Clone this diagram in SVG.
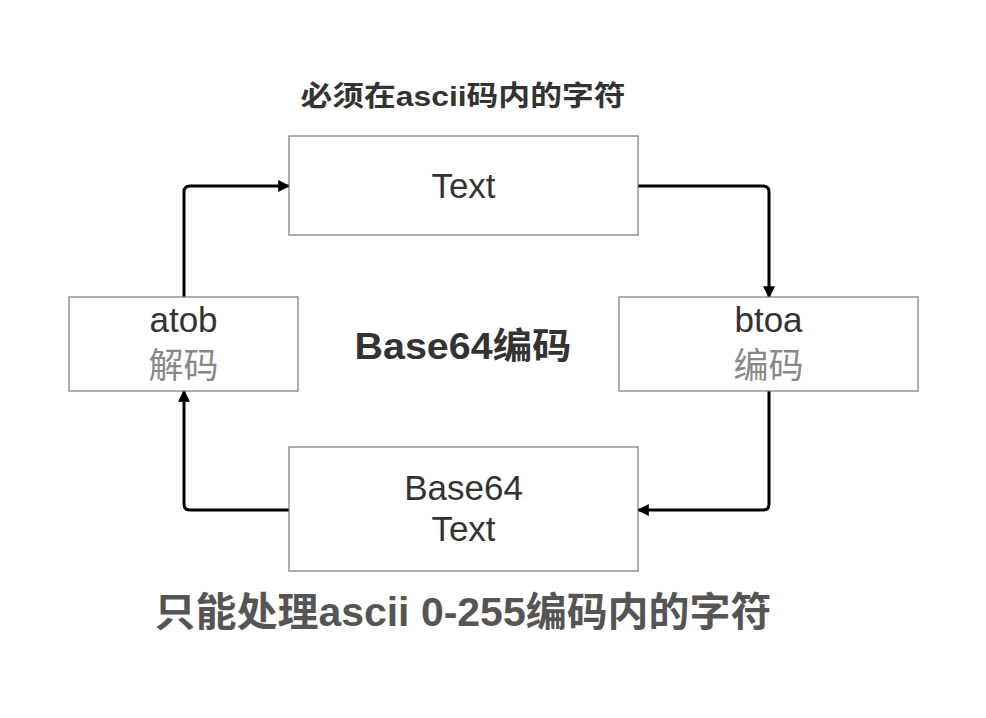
<svg xmlns="http://www.w3.org/2000/svg" width="986" height="718" viewBox="0 0 986 718">
<defs>
<marker id="arr" viewBox="0 0 10 10" refX="9" refY="5" markerWidth="4" markerHeight="4" orient="auto" markerUnits="strokeWidth">
<path d="M0,0 L10,5 L0,10 z" fill="#000"/>
</marker>
<style>
.box{fill:#fff;stroke:#777;stroke-width:1.2}
.t{font-family:"Liberation Sans","Noto Sans CJK SC",sans-serif;text-anchor:middle;fill:#333;font-size:35px}
.g{fill:#888}
.c{fill:none;stroke:#000;stroke-width:3;stroke-linejoin:round;marker-end:url(#arr)}
</style>
</defs>
<rect width="986" height="718" fill="#fff"/>
<g id="connectors">
<path class="c" d="M184,297 V192 Q184,186 190,186 H289"/>
<path class="c" d="M638,186 H763 Q769,186 769,192 V297"/>
<path class="c" d="M769,391 V504 Q769,510 763,510 H638"/>
<path class="c" d="M289,510 H190 Q184,510 184,504 V391"/>
</g>
<g id="node-text">
<rect class="box" x="289" y="136" width="349" height="99"/>
<text class="t" x="463.5" y="198">Text</text>
</g>
<g id="node-atob">
<rect class="box" x="69" y="297" width="229" height="94"/>
<text class="t" x="183.5" y="332">atob</text>
<text class="t g" x="183.5" y="378">解码</text>
</g>
<g id="node-btoa">
<rect class="box" x="619" y="297" width="299" height="94"/>
<text class="t" x="768.5" y="332">btoa</text>
<text class="t g" x="768.5" y="378">编码</text>
</g>
<g id="node-base64">
<rect class="box" x="289" y="447" width="349" height="124"/>
<text class="t" x="463.5" y="500">Base64</text>
<text class="t" x="463.5" y="541">Text</text>
</g>
<g id="labels">
<text class="t" x="463" y="106" textLength="325" lengthAdjust="spacingAndGlyphs" style="font-size:28px;font-weight:bold">必须在ascii码内的字符</text>
<text class="t" x="463" y="359" textLength="217" lengthAdjust="spacingAndGlyphs" style="font-size:36px;font-weight:bold">Base64编码</text>
<text class="t" x="463" y="626" textLength="617" lengthAdjust="spacingAndGlyphs" style="font-size:40px;font-weight:bold;fill:#555">只能处理ascii 0-255编码内的字符</text>
</g>
</svg>
